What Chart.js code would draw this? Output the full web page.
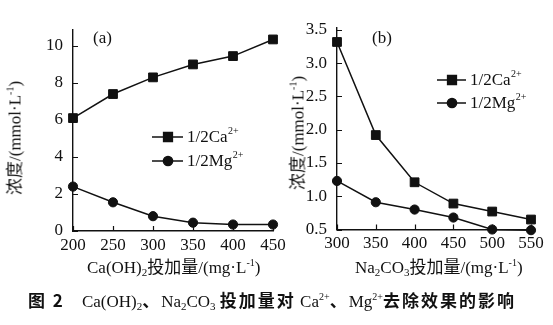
<!DOCTYPE html>
<html>
<head>
<meta charset="utf-8">
<script src="https://cdn.jsdelivr.net/npm/chart.js@4.4.0/dist/chart.umd.min.js"></script>
<style>
  body { margin: 0; background: #fff; width: 553px; height: 325px; position: relative; overflow: hidden; font-family: "Liberation Serif", serif; color: #111; }
  canvas { position: absolute; left: 0; top: 0; }
  .t { position: absolute; font-size: 17px; white-space: nowrap; line-height: 1; }
  .cn { font-family: "Noto Sans CJK SC", sans-serif; }
  .t sub { font-size: 11px; vertical-align: -3px; }
  .t sup { font-size: 10px; vertical-align: 7px; }
  .ytitle { transform: translate(-50%, -50%) rotate(-90deg); }
  #caption { position: absolute; left: 28px; top: 291px; font-size: 17px; white-space: nowrap; line-height: 1; }
  #caption .cn { font-weight: bold; letter-spacing: 2px; }
  #caption sub { font-size: 11px; vertical-align: -3px; }
  #caption sup { font-size: 10px; vertical-align: 7px; }
</style>
</head>
<body>
<canvas id="chartA" width="553" height="290"></canvas>
<canvas id="chartB" width="553" height="290"></canvas>

<div class="t" style="left:93px;top:29px;">(a)</div>
<div class="t" style="left:372px;top:29px;">(b)</div>

<div class="t" id="xtitleA" style="left:87px;top:257px;">Ca(OH)<sub>2</sub><span class="cn">投加量</span>/(mg·L<sup>-1</sup>)</div>
<div class="t" id="xtitleB" style="left:355px;top:257px;">Na<sub>2</sub>CO<sub>3</sub><span class="cn">投加量</span>/(mg·L<sup>-1</sup>)</div>
<div class="t ytitle" style="left:14px;top:138px;"><span class="cn">浓度</span>/(mmol·L<sup>-1</sup>)</div>
<div class="t ytitle" style="left:297px;top:133px;"><span class="cn">浓度</span>/(mmol·L<sup>-1</sup>)</div>

<div id="caption"><span class="cn">图 2</span>&nbsp;&nbsp;&nbsp;&nbsp;Ca(OH)<sub>2</sub><span class="cn">、</span>Na<sub>2</sub>CO<sub>3</sub> <span class="cn">投加量对</span> Ca<sup>2+</sup><span class="cn">、</span>Mg<sup>2+</sup><span class="cn">去除效果的影响</span></div>

<script>
// (a) Ca(OH)2 投加量
const doseA = [200, 250, 300, 350, 400, 450];
const caA = [6.1, 7.4, 8.3, 9.0, 9.45, 10.35];
const mgA = [2.4, 1.55, 0.8, 0.45, 0.35, 0.35];
const yTicksA = [0, 2, 4, 6, 8, 10];

// (b) Na2CO3 投加量
const doseB = [300, 350, 400, 450, 500, 550];
const caB = [3.32, 1.92, 1.21, 0.89, 0.77, 0.65];
const mgB = [1.23, 0.91, 0.80, 0.68, 0.50, 0.49];
const yTicksB = [0.5, 1.0, 1.5, 2.0, 2.5, 3.0, 3.5];

const seriesNames = ['1/2Ca', '1/2Mg'];
const seriesSup = '2+';

const INK = '#111';
const FONT = { family: 'Liberation Serif', size: 17 };

// 刻度线朝内
const innerTicks = {
  id: 'innerTicks',
  afterDraw(chart) {
    const { ctx, chartArea, scales: { x, y } } = chart;
    ctx.save();
    ctx.strokeStyle = INK;
    ctx.lineWidth = 1.2;
    ctx.beginPath();
    x.ticks.forEach(t => {
      const px = Math.round(x.getPixelForValue(t.value)) + 0.5;
      ctx.moveTo(px, chartArea.bottom);
      ctx.lineTo(px, chartArea.bottom - 5);
    });
    y.ticks.forEach(t => {
      const py = Math.round(y.getPixelForValue(t.value)) + 0.5;
      ctx.moveTo(chartArea.left, py);
      ctx.lineTo(chartArea.left + 5, py);
    });
    ctx.stroke();
    ctx.restore();
  }
};

// 图内图例（带上标）
const inlineLegend = {
  id: 'inlineLegend',
  afterDraw(chart, args, opts) {
    const { ctx } = chart;
    chart.data.datasets.forEach((ds, i) => {
      const x0 = opts.x, y0 = opts.y + i * opts.gap;
      ctx.save();
      ctx.strokeStyle = INK;
      ctx.fillStyle = INK;
      ctx.lineWidth = 1.5;
      ctx.beginPath();
      ctx.moveTo(x0, y0);
      ctx.lineTo(x0 + opts.len, y0);
      ctx.stroke();
      Chart.helpers.drawPoint(ctx, {
        pointStyle: ds.pointStyle, radius: ds.pointRadius, rotation: 0, borderWidth: 1
      }, x0 + opts.mark, y0);
      ctx.font = '17px "Liberation Serif"';
      ctx.textBaseline = 'middle';
      ctx.fillText(seriesNames[i], x0 + opts.len + 4, y0 + 1);
      const w = ctx.measureText(seriesNames[i]).width;
      ctx.font = '10px "Liberation Serif"';
      ctx.fillText(seriesSup, x0 + opts.len + 4 + w + 0.5, y0 - 6);
      ctx.restore();
    });
  }
};

function makeChart(id, cfg) {
  const pts = arr => cfg.dose.map((d, i) => ({ x: d, y: arr[i] }));
  return new Chart(document.getElementById(id), {
    type: 'line',
    data: {
      datasets: [
        {
          label: seriesNames[0] + seriesSup,
          data: pts(cfg.ca),
          borderColor: INK, backgroundColor: INK,
          borderWidth: 1.5, pointStyle: 'rect', pointRadius: 6.2,
          pointBorderWidth: 1, tension: 0, clip: false
        },
        {
          label: seriesNames[1] + seriesSup,
          data: pts(cfg.mg),
          borderColor: INK, backgroundColor: INK,
          borderWidth: 1.5, pointStyle: 'circle', pointRadius: 4.6,
          pointBorderWidth: 1, tension: 0, clip: false
        }
      ]
    },
    options: {
      responsive: false,
      animation: false,
      events: [],
      layout: { padding: cfg.padding },
      plugins: {
        legend: { display: false },
        tooltip: { enabled: false },
        inlineLegend: cfg.legend
      },
      scales: {
        x: {
          type: 'linear',
          min: cfg.dose[0], max: cfg.dose[cfg.dose.length - 1],
          afterBuildTicks: s => { s.ticks = cfg.dose.map(v => ({ value: v })); },
          afterFit: s => { s.height = 26; },
          grid: { display: false },
          border: { color: INK, width: 1.4 },
          ticks: { color: INK, font: FONT, padding: -4, maxRotation: 0 }
        },
        y: {
          min: cfg.yMin, max: cfg.yMax,
          afterBuildTicks: s => { s.ticks = cfg.yTicks.map(v => ({ value: v })); },
          afterFit: s => { s.width = cfg.yWidth; },
          grid: { display: false },
          border: { color: INK, width: 1.4 },
          ticks: { color: INK, font: FONT, padding: 2, callback: cfg.fmt }
        }
      }
    },
    plugins: [innerTicks, inlineLegend]
  });
}

makeChart('chartA', {
  dose: doseA, ca: caA, mg: mgA, yTicks: yTicksA,
  yMin: 0, yMax: 10.86, yWidth: 40,
  fmt: v => String(v),
  padding: { left: 33, right: 280, top: 30, bottom: 33 },
  legend: { x: 152, y: 137, gap: 24, len: 31, mark: 16 }
});

makeChart('chartB', {
  dose: doseB, ca: caB, mg: mgB, yTicks: yTicksB,
  yMin: 0.5, yMax: 3.53, yWidth: 40,
  fmt: v => v.toFixed(1),
  padding: { left: 297, right: 22, top: 28, bottom: 34.5 },
  legend: { x: 437, y: 80, gap: 23, len: 29, mark: 15 }
});
</script>
</body>
</html>
